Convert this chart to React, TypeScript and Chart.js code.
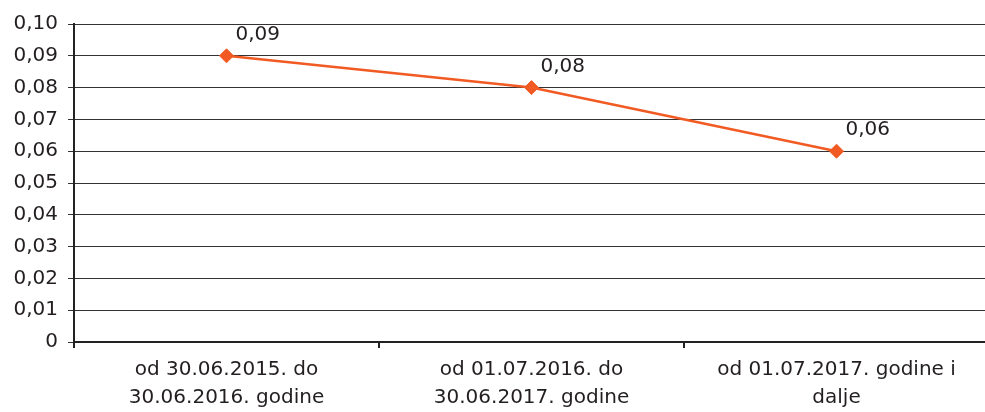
import React, { useEffect, useRef } from "react";
import { Chart, registerables } from "chart.js";

Chart.register(...registerables);

const categories: string[][] = [
  ["od 30.06.2015. do", "30.06.2016. godine"],
  ["od 01.07.2016. do", "30.06.2017. godine"],
  ["od 01.07.2017. godine i", "dalje"],
];
const values: number[] = [0.09, 0.08, 0.06];
const valueLabels: string[] = ["0,09", "0,08", "0,06"];

const FONT = "'DejaVu Sans', 'Liberation Sans', Arial, sans-serif";
const TEXT = "#231f20";
const ORANGE = "#f15a22";

const pointLabels = {
  id: "pointLabels",
  afterDatasetsDraw(chart: any) {
    const ctx = chart.ctx;
    const meta = chart.getDatasetMeta(0);
    ctx.save();
    ctx.font = `20px ${FONT}`;
    ctx.fillStyle = TEXT;
    ctx.textAlign = "left";
    ctx.textBaseline = "alphabetic";
    meta.data.forEach((pt: any, i: number) => {
      ctx.fillText(valueLabels[i], pt.x + 9, pt.y - 16);
    });
    ctx.restore();
  },
};

export default function App() {
  const ref = useRef<HTMLCanvasElement | null>(null);
  useEffect(() => {
    if (!ref.current) return;
    const chart = new Chart(ref.current, {
      type: "line",
      data: {
        labels: categories,
        datasets: [
          {
            data: values,
            borderColor: ORANGE,
            backgroundColor: ORANGE,
            borderWidth: 2.5,
            pointStyle: "rectRot",
            pointRadius: 7,
            pointBorderWidth: 1,
            pointBackgroundColor: ORANGE,
            pointBorderColor: ORANGE,
            tension: 0,
          },
        ],
      },
      options: {
        animation: false,
        responsive: false,
        maintainAspectRatio: false,
        layout: { padding: { top: 24, right: 0, left: 0, bottom: 0 } },
        plugins: { legend: { display: false }, tooltip: { enabled: false } },
        scales: {
          x: {
            offset: true,
            grid: {
              offset: true,
              drawOnChartArea: false,
              drawTicks: true,
              tickLength: 6,
              color: "#222",
              lineWidth: 2,
            },
            border: { color: "#222", width: 2 },
            ticks: {
              color: TEXT,
              font: { family: FONT, size: 20, lineHeight: 1.4 },
              padding: 8,
              maxRotation: 0,
              autoSkip: false,
            },
            afterFit: (s: any) => {
              s.height = 70;
            },
          },
          y: {
            min: 0,
            max: 0.1,
            ticks: {
              stepSize: 0.01,
              color: TEXT,
              font: { family: FONT, size: 20 },
              padding: 10,
              callback: (v: any) =>
                Number(v) === 0 ? "0" : Number(v).toFixed(2).replace(".", ","),
            },
            grid: {
              color: "#333",
              lineWidth: 1,
              tickLength: 6,
            },
            border: { color: "#222", width: 2 },
            afterFit: (s: any) => {
              s.width = 74;
            },
          },
        },
      },
      plugins: [pointLabels],
    });
    return () => chart.destroy();
  }, []);
  return (
    <div
      style={{
        position: "absolute",
        left: 0,
        top: 0,
        width: 985,
        height: 412,
        overflow: "hidden",
        background: "#fff",
      }}
    >
      <canvas ref={ref} width={997} height={412} style={{ display: "block" }} />
    </div>
  );
}
